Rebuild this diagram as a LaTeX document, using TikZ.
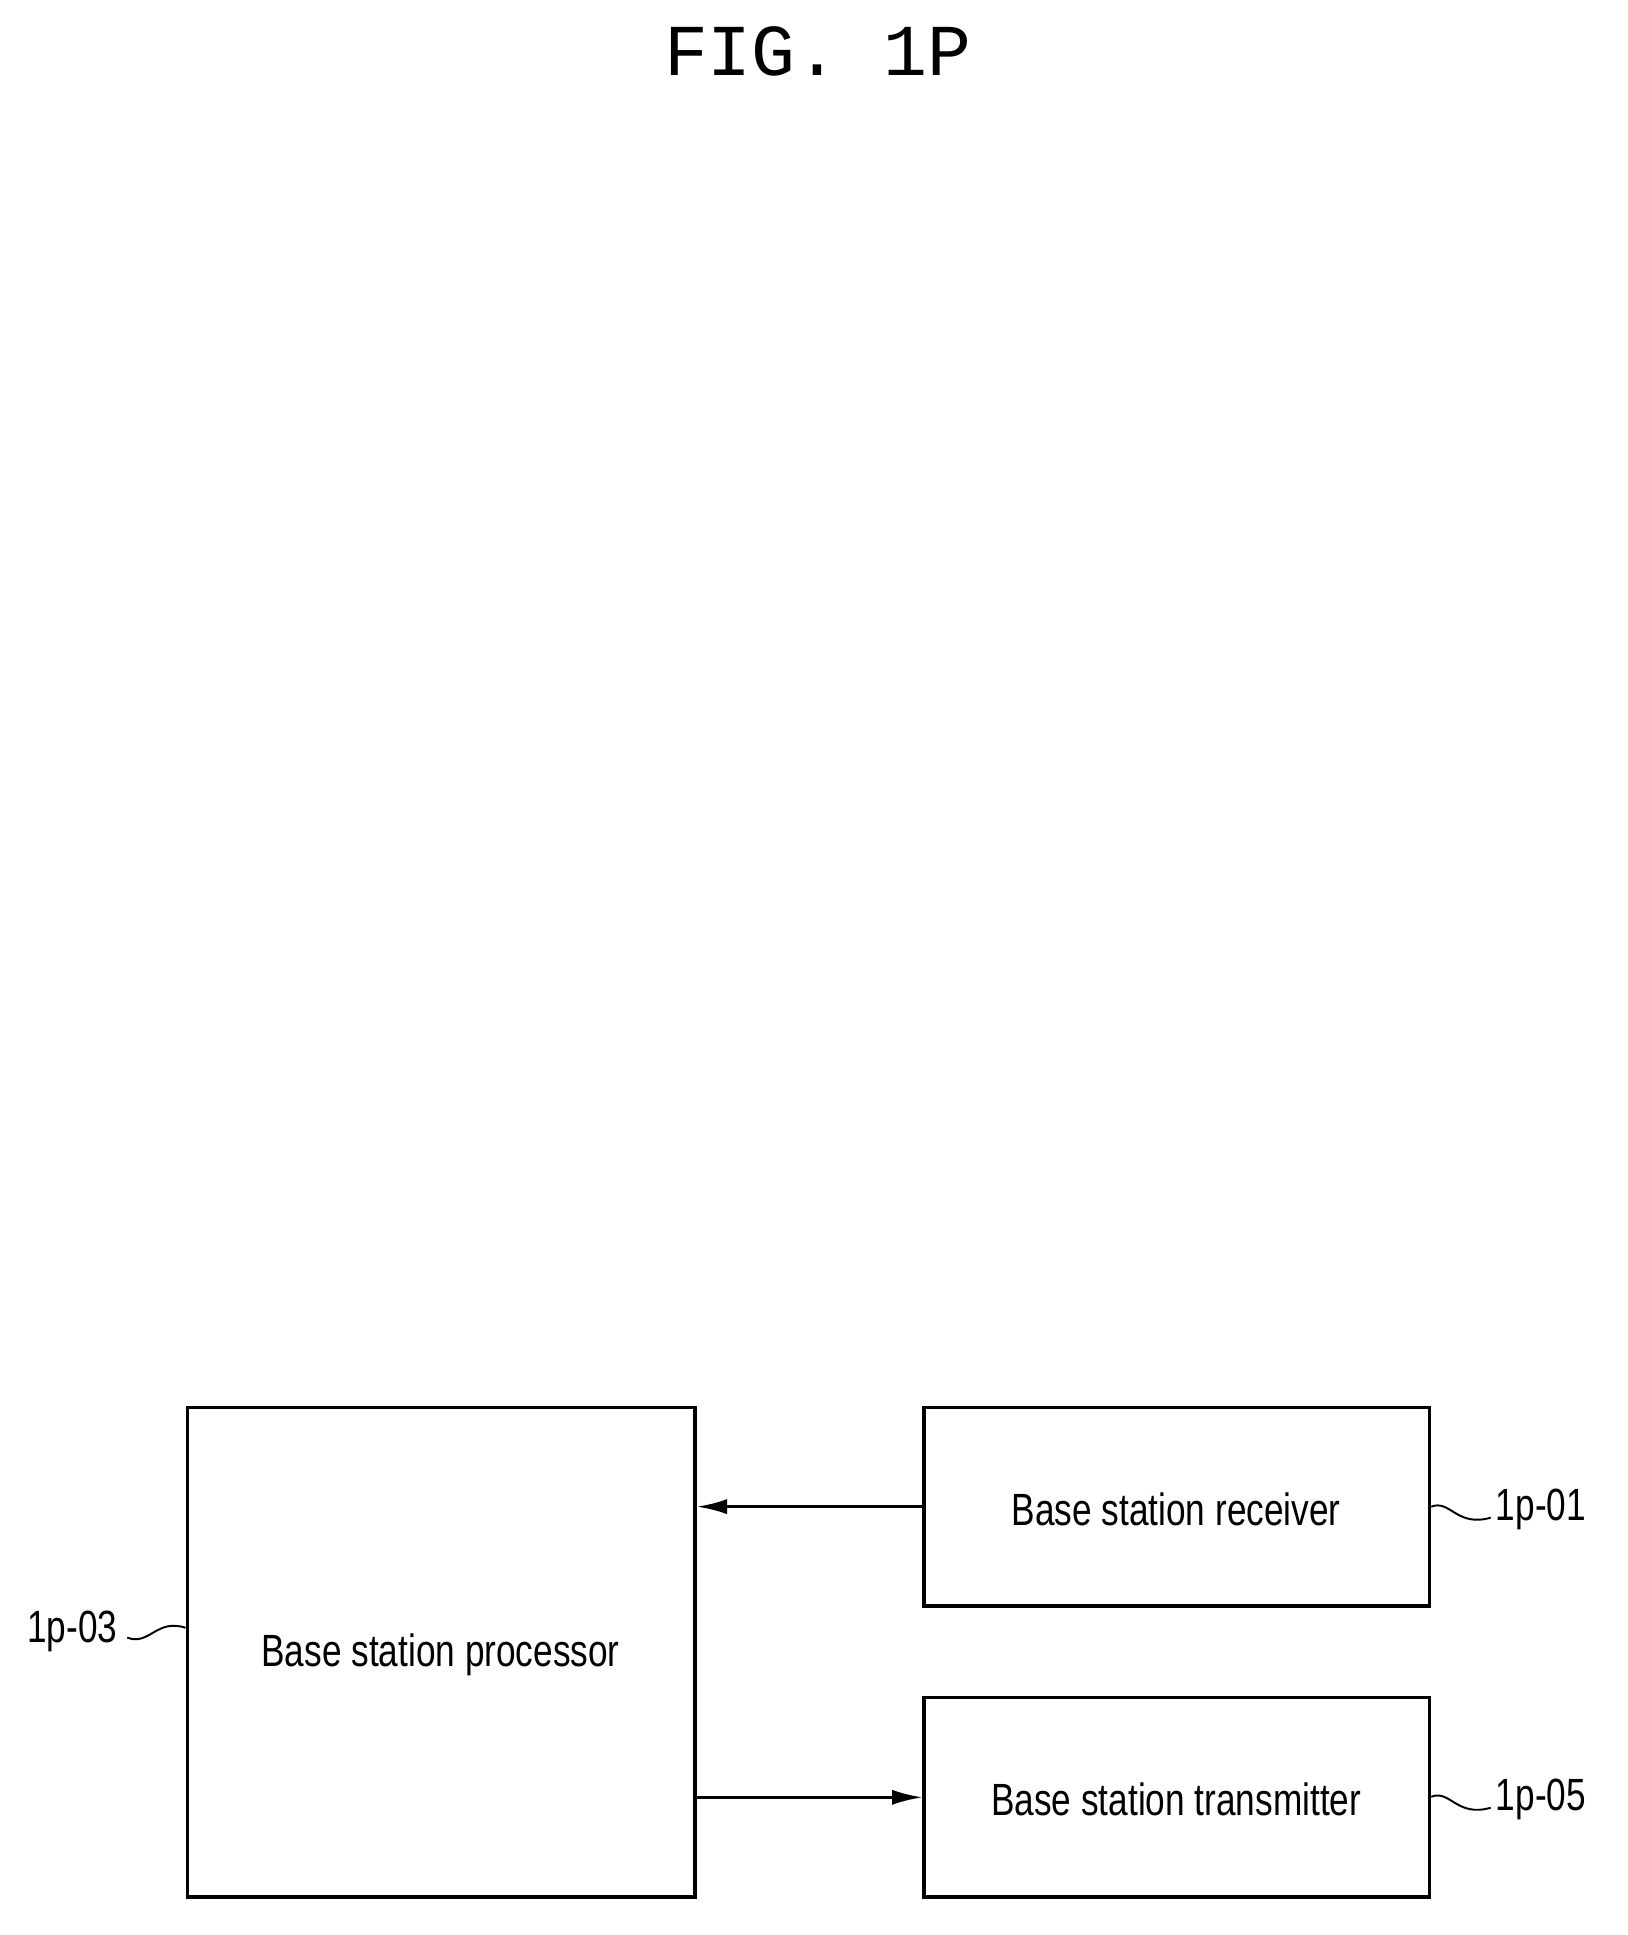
\documentclass[tikz,border=0pt]{standalone}
\usepackage{fontspec}
\setmainfont[FakeStretch=0.78]{Liberation Sans}
\newfontfamily\titlefont{Liberation Mono}
\begin{document}
\begin{tikzpicture}[x=0.02cm,y=-0.02cm,
  blk/.style={draw,line width=1.6pt,inner sep=0},
  lbl/.style={font=\fontsize{21}{24}\selectfont},
  conn/.style={line width=1.3pt,-{Latex[length=14pt,width=7pt]}},
  wav/.style={line width=0.9pt}]
\usetikzlibrary{arrows.meta}
\useasboundingbox (0,0) rectangle (1330,1581);
\node[font=\titlefont\fontsize{34}{40}\selectfont] (title) at (668,42) {FIG. 1P};
\node[blk,minimum width=415*0.02cm,minimum height=400*0.02cm] (proc) at (360.5,1350) {};
\node[lbl] (proct) at (360,1352) {Base station processor};
\node[blk,minimum width=413*0.02cm,minimum height=162*0.02cm] (rx) at (961.5,1231) {};
\node[lbl] (rxt) at (961,1233) {Base station receiver};
\node[blk,minimum width=413*0.02cm,minimum height=163*0.02cm] (tx) at (961.5,1468.5) {};
\node[lbl] (txt) at (961,1470) {Base station transmitter};
\draw[conn] (rx.west) -- (proc.east |- rx.west);
\draw[conn] (proc.east |- tx.west) -- (tx.west);
\node[lbl,anchor=west] (l01) at (1216,1233) {1p-01};
\node[lbl,anchor=west] (l05) at (1216,1470) {1p-05};
\node[lbl,anchor=east] (l03) at (102,1333) {1p-03};
\draw[wav] (rx.east) .. controls (1185,1225) and (1190,1248) .. (1218,1240);
\draw[wav] (tx.east |- 0,1468) .. controls (1185,1462) and (1190,1485) .. (1218,1477);
\draw[wav] (104,1338) .. controls (122,1345) and (128,1322) .. (proc.west |- 0,1330);
\end{tikzpicture}
\end{document}
